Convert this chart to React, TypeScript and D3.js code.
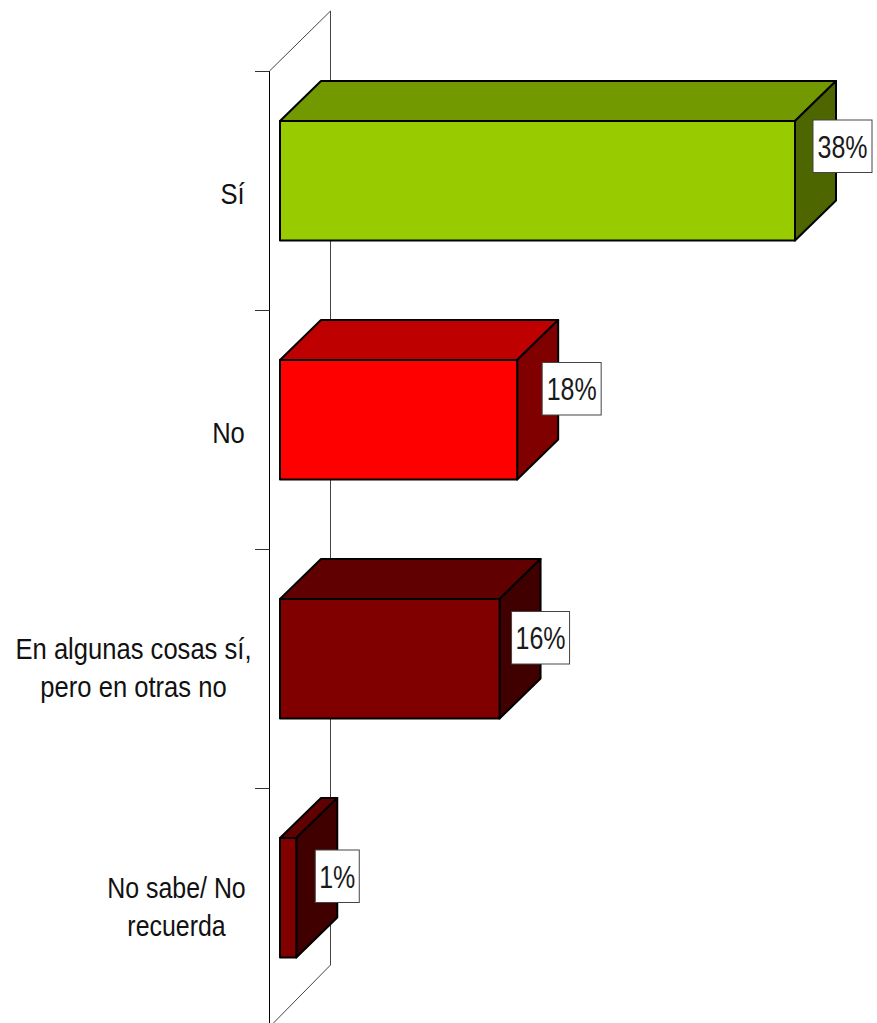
import React from "react";
import * as d3 from "d3";

const categories = ["Sí", "No", "En algunas cosas sí,|pero en otras no", "No sabe/ No|recuerda"];
const values = [38, 17.5, 16.2, 1.2];
const valueLabels = ["38%", "18%", "16%", "1%"];
const fronts = ["#99cc00", "#ff0000", "#800000", "#800000"];
const tops = ["#739900", "#bf0000", "#600000", "#600000"];
const sides = ["#4d6600", "#800000", "#400000", "#400000"];

// layout of the value boxes and category labels, relative to each bar
const boxDx = [18, 25, 12, 19];
const boxDy = [-1, 2.5, 12.5, 12];
const boxW = [59, 59, 58, 44];
const catX = [232.5, 228.5, 133.5, 176.5];
const catScale = [0.873, 0.873, 0.873, 0.85];

const W = 877, H = 1023;
const axisLeft = 269.5, axisTop = 71, axisBottom = 1027;
const dx = 41, dy = 40;
const band = d3.scaleBand<number>().domain(d3.range(categories.length)).range([axisTop, axisTop + 239 * 4]);
const x = d3.scaleLinear().domain([0, 38]).range([280, 795]);
const barH = 119.5;
const labelFont = "'Liberation Sans', Arial, sans-serif";

export default function App() {
  const ticks = d3.range(categories.length).map((i) => band(i)!);
  return (
    <svg width={W} height={H} style={{ position: "absolute", left: 0, top: 0, background: "#fff" }} fontFamily={labelFont}>
      <path d={`M${axisLeft},${axisTop}L330.5,11V965L${axisLeft + 3},1024`} fill="none" stroke="#444" strokeWidth={1} />
      <line x1={axisLeft} x2={axisLeft} y1={axisTop} y2={axisBottom} stroke="#000" strokeWidth={1} />
      {ticks.map((t, i) => (
        <line key={i} x1={255} x2={axisLeft} y1={t + 0.5} y2={t + 0.5} stroke="#333" strokeWidth={1} />
      ))}
      {values.map((v, i) => {
        const y0 = band(i)! + 50;
        const x0 = x(0), x1 = x(v);
        const edge = { stroke: "#000", strokeWidth: 2, strokeLinejoin: "round" as const };
        return (
          <g key={i}>
            <path d={`M${x0},${y0}l${dx},${-dy}H${x1 + dx}l${-dx},${dy}Z`} fill={tops[i]} {...edge} />
            <path d={`M${x1},${y0}l${dx},${-dy}v${barH}l${-dx},${dy}Z`} fill={sides[i]} {...edge} />
            <rect x={x0} y={y0} width={x1 - x0} height={barH} fill={fronts[i]} {...edge} />
          </g>
        );
      })}
      {values.map((v, i) => {
        const y0 = band(i)! + 50;
        const bx = x(v) + boxDx[i];
        const by = y0 + boxDy[i];
        return (
          <g key={i}>
            <rect x={bx} y={by} width={boxW[i]} height={52.5} fill="#fff" stroke="#444" strokeWidth={1} />
            <text transform={`translate(${bx + boxW[i] / 2},${by + 37.5}) scale(0.82,1)`} textAnchor="middle" fontSize={30.5} fill="#1a1a1a">
              {valueLabels[i]}
            </text>
          </g>
        );
      })}
      {categories.map((c, i) => {
        const lines = c.split("|");
        const first = band(i)! + (lines.length > 1 ? 110 : 133);
        return (
          <g key={i}>
            {lines.map((l, j) => (
              <text key={j} transform={`translate(${catX[i]},${first + j * 38}) scale(${catScale[i]},1)`} textAnchor="middle" fontSize={29.3} fill="#111">
                {l}
              </text>
            ))}
          </g>
        );
      })}
    </svg>
  );
}
